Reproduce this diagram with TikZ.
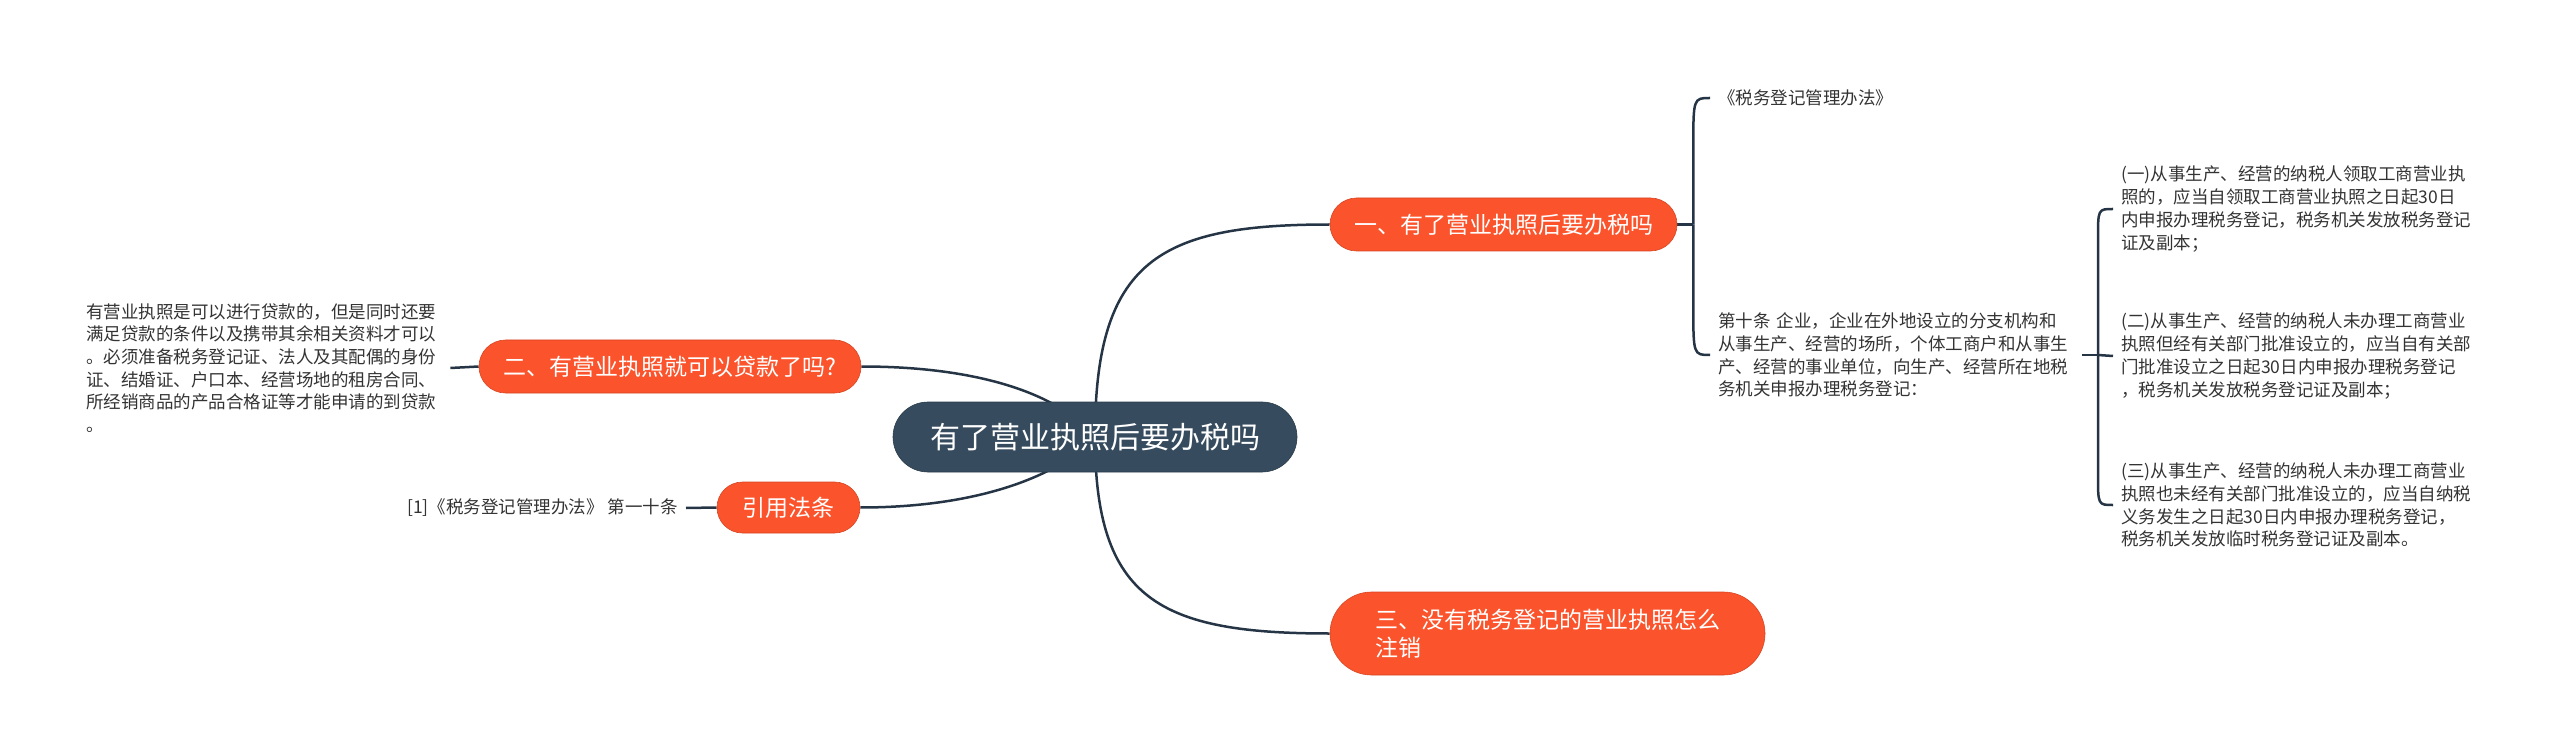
\documentclass[tikz,border=0pt]{standalone}
\usepackage{fontspec}
\setmainfont{Noto Sans CJK SC}
\usetikzlibrary{calc,backgrounds}
\definecolor{rootfill}{HTML}{364B5E}
\definecolor{topicfill}{HTML}{FB532B}
\definecolor{edgeline}{HTML}{253545}
\definecolor{leaftext}{HTML}{333333}

\tikzset{
  roottopic/.style={fill=rootfill, draw=rootfill!80!black, line width=0.6pt,
    text=white, font=\fontsize{30pt}{36pt}\selectfont, inner sep=0pt,
    minimum width=404pt, minimum height=70pt, rounded corners=35pt},
  maintopic/.style={fill=topicfill, draw=topicfill!85!black, line width=0.6pt,
    text=white, font=\fontsize{23pt}{28pt}\selectfont, inner sep=0pt,
    minimum height=53pt, rounded corners=26.5pt},
  leafnote/.style={text=leaftext, font=\fontsize{17.5pt}{22.7pt}\selectfont,
    align=left, inner xsep=8pt, inner ysep=2pt},
  branchline/.style={draw=edgeline, line width=2.5pt},
}

\begin{document}
\begin{tikzpicture}[x=1pt,y=-1pt]
    \path[use as bounding box] (0,0) rectangle (2560,751);

    % Central topic and its four main branches.
    \node[roottopic] (root) at (1095,437) {有了营业执照后要办税吗};
    \node[maintopic, minimum width=347pt] (tax) at (1503.5,224.5)
      {一、有了营业执照后要办税吗};
    \node[maintopic, minimum width=382pt] (loanq) at (670,366.5)
      {二、有营业执照就可以贷款了吗?};
    \node[maintopic, minimum width=143pt, minimum height=51pt,
      rounded corners=25.5pt] (cite) at (788.5,507.5) {引用法条};
    \node[maintopic, text width=345pt, align=left, inner xsep=45pt,
      minimum height=83pt, rounded corners=41.5pt] (cancel) at (1547.5,633.5)
      {三、没有税务登记的营业执照怎么\\注销};

    % Notes hanging off the branches.
    \node[leafnote, anchor=west] (law) at (1710,98) {《税务登记管理办法》};
    \node[leafnote, anchor=west, text width=356pt] (art10) at (1710,355)
      {第十条 企业，企业在外地设立的分支机构和\\从事生产、经营的场所，个体工商户和从事生\\产、经营的事业单位，向生产、经营所在地税\\务机关申报办理税务登记：};
    \node[leafnote, anchor=west, text width=356pt] (item1) at (2113,209)
      {(一)从事生产、经营的纳税人领取工商营业执\\照的，应当自领取工商营业执照之日起30日\\内申报办理税务登记，税务机关发放税务登记\\证及副本；};
    \node[leafnote, anchor=west, text width=356pt] (item2) at (2113,356)
      {(二)从事生产、经营的纳税人未办理工商营业\\执照但经有关部门批准设立的，应当自有关部\\门批准设立之日起30日内申报办理税务登记\\，税务机关发放税务登记证及副本；};
    \node[leafnote, anchor=west, text width=356pt] (item3) at (2113,505)
      {(三)从事生产、经营的纳税人未办理工商营业\\执照也未经有关部门批准设立的，应当自纳税\\义务发生之日起30日内申报办理税务登记，\\税务机关发放临时税务登记证及副本。};
    \node[leafnote, anchor=west, text width=356pt] (loan) at (78,368)
      {有营业执照是可以进行贷款的，但是同时还要\\满足贷款的条件以及携带其余相关资料才可以\\。必须准备税务登记证、法人及其配偶的身份\\证、结婚证、户口本、经营场地的租房合同、\\所经销商品的产品合格证等才能申请的到贷款\\。};
    \node[leafnote, anchor=east] (citetext) at (686,508)
      {[1]《税务登记管理办法》 第一十条};

    \coordinate (j1) at ($(tax.east)+(16,0)$);
    \coordinate (j2) at (2098,355);

    \begin{pgfonlayer}{background}
      % Curved links leave from the middle of the central topic.
      \draw[branchline] (root.center) .. controls +(0,-177) and +(-170,0) .. (tax.west);
      \draw[branchline] (root.center) .. controls +(0,163) and +(-170,0) .. (cancel.west);
      \draw[branchline] (loanq.east) .. controls +(120,0) and +(-35,-42) .. (root.center);
      \draw[branchline] (cite.east) .. controls +(120,0) and +(-35,38) .. (root.center);

      % Short links to the notes on the left.
      \draw[branchline] (loan.east) -- (loanq.west);
      \draw[branchline] (citetext.east) -- (cite.west);

      % Bracket under the first branch.
      \draw[branchline] (tax.east) -- (j1);
      \draw[branchline] (j1) -- ($(j1 |- law.west)+(0,50)$)
        .. controls (j1 |- law.west) .. (law.west);
      \draw[branchline] (j1) -- ($(j1 |- art10.west)+(0,-50)$)
        .. controls (j1 |- art10.west) .. (art10.west);

      % Bracket for the three numbered cases.
      \draw[branchline] (art10.east) -- (j2);
      \draw[branchline] (j2) -- ($(j2 |- item1.west)+(0,30)$)
        .. controls (j2 |- item1.west) .. (item1.west);
      \draw[branchline] (j2) -- (item2.west);
      \draw[branchline] (j2) -- ($(j2 |- item3.west)+(0,-30)$)
        .. controls (j2 |- item3.west) .. (item3.west);
    \end{pgfonlayer}
  \end{tikzpicture}
\end{document}
